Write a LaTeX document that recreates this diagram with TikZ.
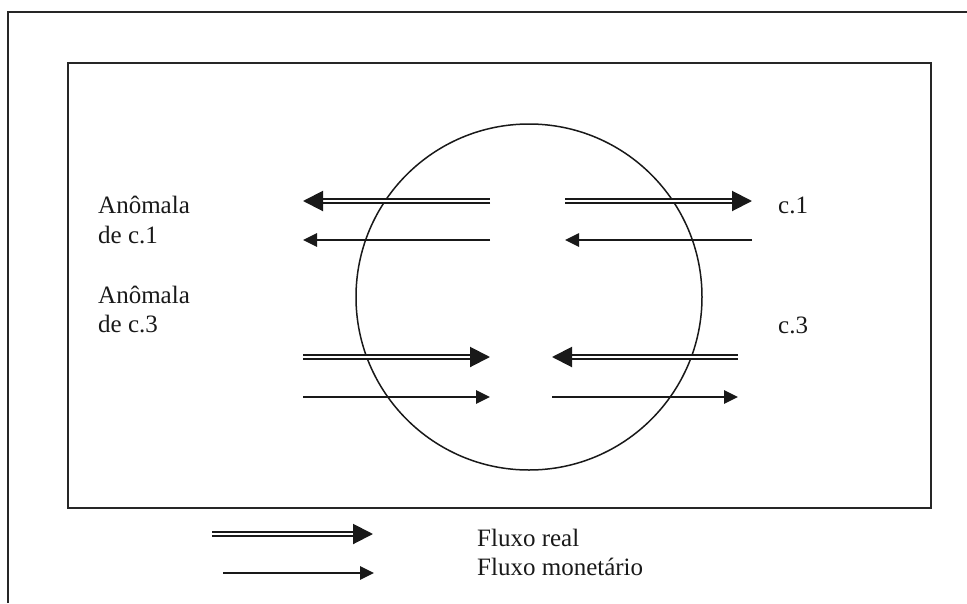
\documentclass[tikz,border=0pt]{standalone}
\usepackage{fontspec}
\setmainfont{Liberation Serif}
\usetikzlibrary{arrows.meta}
\begin{document}
\begin{tikzpicture}[x=1pt,y=-1pt,
  frameline/.style={line width=1.4pt, draw=black!85},
  realflow/.style={line width=2pt, double=white, double distance=1.4pt, draw=black!90,
    -{Triangle[length=20pt,width=20pt]}},
  moneyflow/.style={line width=2.6pt, draw=black!90,
    -{Triangle[length=14pt,width=13pt]}},
  lbl/.style={anchor=base west, inner sep=0pt, font=\fontsize{25}{29}\selectfont, text=black!90}]
\useasboundingbox (0,0) rectangle (967,603);
% frames
\coordinate (ob) at (8,603);
\coordinate (ol) at (8,12);
\coordinate (or) at (967,12);
\draw[frameline] (ob) -- (ol) -- (or);
\coordinate (ia) at (68,63);
\coordinate (ib) at (931,508);
\draw[frameline] (ia) rectangle (ib);
% circle
\node[circle, draw=black!90, line width=1.5pt, minimum size=346pt, inner sep=0pt] (mkt) at (529,297) {};
% arrow end points
\coordinate (a1s) at (490,201); \coordinate (a1e) at (303,201);
\coordinate (b1s) at (490,240); \coordinate (b1e) at (303,240);
\coordinate (c1s) at (565,201); \coordinate (c1e) at (752,201);
\coordinate (d1s) at (752,240); \coordinate (d1e) at (565,240);
\coordinate (a3s) at (303,357); \coordinate (a3e) at (490,357);
\coordinate (b3s) at (303,397); \coordinate (b3e) at (490,397);
\coordinate (c3s) at (738,357); \coordinate (c3e) at (552,357);
\coordinate (d3s) at (552,397); \coordinate (d3e) at (738,397);
\coordinate (lrs) at (212,534); \coordinate (lre) at (373,534);
\coordinate (lms) at (223,573); \coordinate (lme) at (374,573);
\draw[realflow] (a1s) -- (a1e);
\draw[moneyflow] (b1s) -- (b1e);
\draw[realflow] (c1s) -- (c1e);
\draw[moneyflow] (d1s) -- (d1e);
\draw[realflow] (a3s) -- (a3e);
\draw[moneyflow] (b3s) -- (b3e);
\draw[realflow] (c3s) -- (c3e);
\draw[moneyflow] (d3s) -- (d3e);
\draw[realflow] (lrs) -- (lre);
\draw[moneyflow] (lms) -- (lme);
% labels
\node[lbl] (t1a) at (98,213) {Anômala};
\node[lbl] (t1b) at (98,243) {de c.1};
\node[lbl] (t3a) at (98,303) {Anômala};
\node[lbl] (t3b) at (98,332) {de c.3};
\node[lbl] (tc1) at (778,213) {c.1};
\node[lbl] (tc3) at (778,333) {c.3};
\node[lbl] (lg1) at (477,546) {Fluxo real};
\node[lbl] (lg2) at (477,575) {Fluxo monetário};
\end{tikzpicture}
\end{document}
